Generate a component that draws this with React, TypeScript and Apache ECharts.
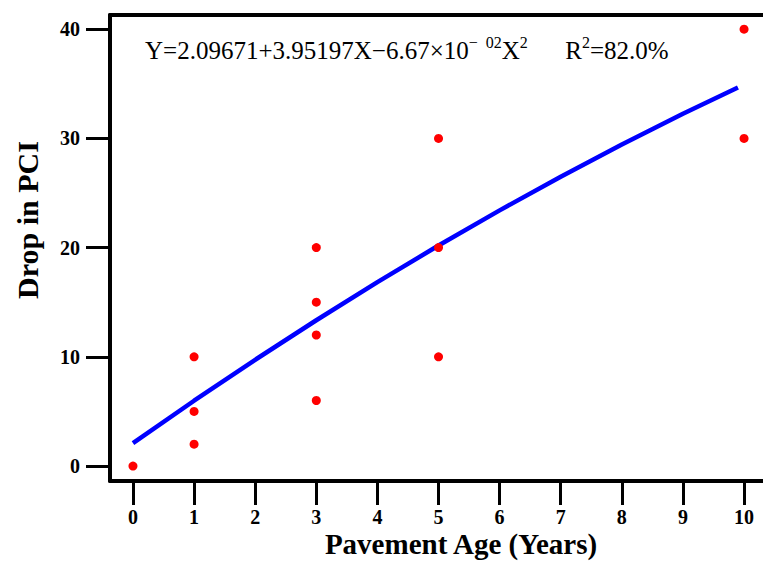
import React, { useEffect, useRef } from "react";
import * as echarts from "echarts";

// Observed data: pavement age (years) vs drop in PCI
const ageValues = [0, 1, 1, 1, 3, 3, 3, 3, 5, 5, 5, 10, 10];
const pciDropValues = [0, 10, 5, 2, 20, 15, 12, 6, 30, 20, 10, 40, 30];

// Fitted curve points
const fitAge = [0, 1, 2, 3, 4, 5, 6, 7, 8, 9, 9.9];
const fitDrop = [2.1, 5.98, 9.73, 13.35, 16.84, 20.19, 23.41, 26.49, 29.44, 32.26, 34.67];

const xTicks = [0, 1, 2, 3, 4, 5, 6, 7, 8, 9, 10];
const yTicks = [0, 10, 20, 30, 40];

const SERIF = "'Liberation Serif', 'Times New Roman', serif";

export default function App() {
  const ref = useRef<HTMLDivElement>(null);
  useEffect(() => {
    if (!ref.current) return;
    const chart = echarts.init(ref.current, null, { renderer: "svg" });
    const xRange = { min: -0.376, max: 10.31 };
    chart.setOption({
      animation: false,
      backgroundColor: "#fff",
      grid: {
        left: 110,
        top: 15,
        right: 0,
        bottom: 82,
        show: false,
      },
      xAxis: [
        {
          type: "value",
          ...xRange,
          splitLine: { show: false },
          axisLine: { show: true, onZero: false, lineStyle: { color: "#000", width: 4 } },
          axisTick: {
            show: true,
            customValues: xTicks,
            length: 24,
            lineStyle: { color: "#000", width: 3 },
          },
          axisLabel: {
            customValues: xTicks,
            margin: 26,
            color: "#000",
            fontFamily: SERIF,
            fontWeight: "bold",
            fontSize: 20,
          },
        },
        {
          type: "value",
          position: "top",
          ...xRange,
          splitLine: { show: false },
          axisLine: { show: true, onZero: false, lineStyle: { color: "#000", width: 4 } },
          axisTick: { show: false },
          axisLabel: { show: false },
        },
      ],
      yAxis: {
        type: "value",
        min: -1.37,
        max: 41.3,
        splitLine: { show: false },
        axisLine: { show: true, onZero: false, lineStyle: { color: "#000", width: 4 } },
        axisTick: {
          show: true,
          customValues: yTicks,
          length: 24,
          lineStyle: { color: "#000", width: 3 },
        },
        axisLabel: {
          customValues: yTicks,
          margin: 30,
          color: "#000",
          fontFamily: SERIF,
          fontWeight: "bold",
          fontSize: 20,
        },
      },
      series: [
        {
          type: "line",
          data: fitAge.map((x, i) => [x, fitDrop[i]]),
          showSymbol: false,
          lineStyle: { color: "#0000ff", width: 4.5 },
          z: 2,
        },
        {
          type: "scatter",
          data: ageValues.map((x, i) => [x, pciDropValues[i]]),
          symbolSize: 9,
          itemStyle: { color: "#ff0000", opacity: 1 },
          z: 3,
        },
      ],
      graphic: [
        {
          type: "text",
          left: 145,
          top: 34,
          style: {
            text: "{n|Y=2.09671+3.95197X−6.67×10}{s|−  02}{n|X}{s|2}{n|      R}{s|2}{n|=82.0%}",
            rich: {
              n: { fontFamily: SERIF, fontSize: 25, fill: "#000", lineHeight: 29, verticalAlign: "bottom" },
              s: { fontFamily: SERIF, fontSize: 16, fill: "#000", lineHeight: 29, verticalAlign: "top" },
            },
          },
        },
        {
          type: "text",
          x: 27,
          y: 220,
          rotation: Math.PI / 2,
          style: {
            text: "Drop in PCI",
            fontFamily: SERIF,
            fontWeight: "bold",
            fontSize: 30,
            fill: "#000",
            align: "center",
            verticalAlign: "middle",
          },
        },
        {
          type: "text",
          x: 461,
          y: 544,
          style: {
            text: "Pavement Age (Years)",
            fontFamily: SERIF,
            fontWeight: "bold",
            fontSize: 29,
            fill: "#000",
            align: "center",
            verticalAlign: "middle",
          },
        },
      ],
    });
    return () => chart.dispose();
  }, []);
  return <div ref={ref} style={{ width: 763, height: 563, position: "absolute", left: 0, top: 0 }} />;
}
